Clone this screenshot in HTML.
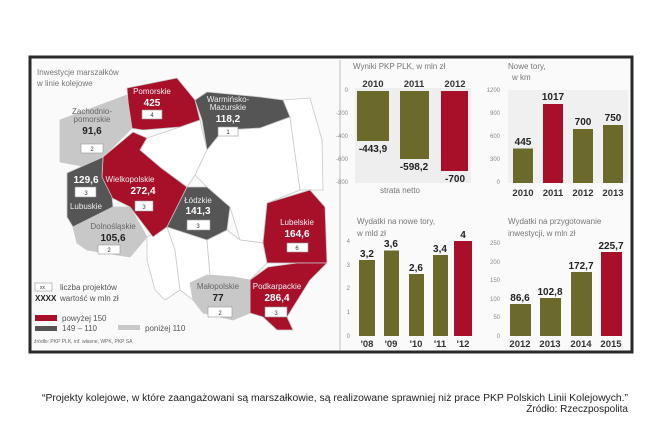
<!DOCTYPE html>
<html><head><meta charset="utf-8"><style>
html,body{margin:0;padding:0;background:#fff;}
svg{display:block;}
text{font-family:"Liberation Sans Narrow","Liberation Sans",sans-serif;}
.t{font-size:8px;fill:#777;}
.ax{font-size:6px;fill:#888;}
.v{font-size:10px;font-weight:bold;fill:#222;}
.y{font-size:9.5px;font-weight:bold;fill:#333;}
.rl{font-size:8px;fill:#eee;}
.rv{font-size:10px;font-weight:bold;fill:#fff;}
.dv{font-size:10px;font-weight:bold;fill:#222;}
.dl{font-size:8px;fill:#666;}
.bx{fill:#fff;stroke:#999;stroke-width:.6;}
.bt{font-size:6px;fill:#333;}
.lg{font-size:8px;fill:#555;}
.cap{font-family:"Liberation Sans",sans-serif;font-size:10px;fill:#222;}
</style></head><body>
<svg width="669" height="447" viewBox="0 0 669 447" xmlns="http://www.w3.org/2000/svg">
<rect width="669" height="447" fill="#fff"/>
<rect x="30" y="57" width="602" height="295" fill="#fafafa" stroke="#2a2a2a" stroke-width="3"/>
<line x1="340" y1="60" x2="340" y2="350" stroke="#ddd" stroke-width="2"/>
<g stroke="#c8c8c8" stroke-width="0.8" stroke-linejoin="round">
<polygon points="140,150 147,138 180,127 200,120 207,150 195,175 187,187 160,167" fill="#fff"/>
<polygon points="207,150 223,130 260,128 290,117 300,190 267,203 263,243 240,240 230,207 207,187 195,175" fill="#fff"/>
<polygon points="283,100 310,98 322,140 323,190 310,190 300,190 290,117" fill="#fff"/>
<polygon points="147,237 167,227 175,250 180,290 165,300 155,290 147,260" fill="#fff"/>
<polygon points="167,227 207,240 210,275 193,300 180,290 175,250" fill="#fff"/>
<polygon points="207,240 227,230 240,240 263,243 267,263 250,280 233,277 210,275" fill="#fff"/>
<polygon points="127,88 177,78 195,100 200,120 180,127 143,130 130,128" fill="#a8102a"/>
<polygon points="195,100 207,92 260,97 283,100 290,117 260,128 223,130 207,150 202,120" fill="#555"/>
<polygon points="60,120 127,95 132,128 103,157 87,167 60,162" fill="#c8c8c8"/>
<polygon points="103,157 133,132 147,138 140,150 160,167 187,187 167,227 153,237 130,207 110,197 102,177" fill="#a8102a"/>
<polygon points="67,173 103,157 102,177 112,197 113,207 73,227 67,217" fill="#555"/>
<polygon points="73,227 113,207 130,207 147,237 130,257 87,250 77,243" fill="#c8c8c8"/>
<polygon points="187,187 207,187 230,207 227,230 207,240 167,227" fill="#555"/>
<polygon points="267,203 310,190 325,207 327,263 297,263 267,263 263,243" fill="#a8102a"/>
<polygon points="250,280 268,267 297,263 327,263 310,280 287,317 293,330 277,330 263,317 250,313" fill="#a8102a"/>
<polygon points="190,283 207,275 233,277 250,280 250,313 233,320 203,313 193,300" fill="#c8c8c8"/>
</g>
<text x="37" y="75" class="t">Inwestycje marszałków</text>
<text x="37" y="86" class="t">w linie kolejowe</text>
<g text-anchor="middle">
<text x="152" y="94" class="rl">Pomorskie</text><text x="152" y="106" class="rv">425</text>
<rect x="142" y="110" width="20" height="9" class="bx"/><text x="152" y="117" class="bt">4</text>
<text x="228" y="102" class="rl">Warmińsko-</text><text x="228" y="110" class="rl">Mazurskie</text><text x="228" y="122" class="rv">118,2</text>
<rect x="218" y="127" width="20" height="9" class="bx"/><text x="228" y="134" class="bt">1</text>
<text x="92" y="114" class="dl">Zachodnio-</text><text x="92" y="122" class="dl">pomorskie</text><text x="92" y="134" class="dv">91,6</text>
<rect x="81" y="144" width="22" height="9" class="bx"/><text x="92" y="151" class="bt">2</text>
<text x="86" y="183" class="rv">129,6</text>
<rect x="75" y="187" width="21" height="10" class="bx"/><text x="86" y="195" class="bt">3</text>
<text x="86" y="209" class="rl">Lubuskie</text>
<text x="130" y="182" class="rl">Wielkopolskie</text><text x="143" y="194" class="rv">272,4</text>
<rect x="135" y="201" width="18" height="10" class="bx"/><text x="144" y="209" class="bt">3</text>
<text x="198" y="203" class="rl">Łódzkie</text><text x="198" y="214" class="rv">141,3</text>
<rect x="187" y="220" width="23" height="10" class="bx"/><text x="198" y="228" class="bt">3</text>
<text x="113" y="229" class="dl">Dolnośląskie</text><text x="113" y="241" class="dv">105,6</text>
<rect x="98" y="245" width="22" height="9" class="bx"/><text x="109" y="252" class="bt">2</text>
<text x="297" y="225" class="rl">Lubelskie</text><text x="297" y="237" class="rv">164,6</text>
<rect x="287" y="243" width="21" height="9" class="bx"/><text x="297" y="250" class="bt">6</text>
<text x="218" y="289" class="dl">Małopolskie</text><text x="218" y="301" class="dv">77</text>
<rect x="208" y="307" width="24" height="10" class="bx"/><text x="220" y="315" class="bt">2</text>
<text x="277" y="289" class="rl">Podkarpackie</text><text x="277" y="301" class="rv">286,4</text>
<rect x="265" y="307" width="22" height="10" class="bx"/><text x="276" y="315" class="bt">3</text>
</g>
<rect x="35" y="283" width="17" height="8" class="bx"/><text x="40" y="289" style="font-size:5px;fill:#333">xx</text>
<text x="60" y="290" class="lg">liczba projektów</text>
<text x="35" y="301" style="font-size:8px;font-weight:bold;fill:#222">XXXX</text><text x="60" y="301" class="lg">wartość w mln zł</text>
<rect x="35" y="315" width="22" height="6" fill="#a8102a"/><text x="62" y="321" class="lg">powyżej 150</text>
<rect x="35" y="326" width="22" height="5" fill="#555"/><text x="62" y="331" class="lg">149 – 110</text>
<rect x="118" y="325" width="22" height="5" fill="#c8c8c8"/><text x="145" y="331" class="lg">poniżej 110</text>
<text x="34" y="343" style="font-size:5px;fill:#666">źródło: PKP PLK, inf. własne, WPK, PKP SA</text>

<text x="353" y="69" class="t">Wyniki PKP PLK, w mln zł</text>
<rect x="355" y="88" width="116" height="95" fill="#eee"/>
<g class="ax" text-anchor="end"><text x="348" y="92">0</text><text x="348" y="115">-200</text><text x="348" y="138">-400</text><text x="348" y="161">-600</text><text x="348" y="184">-800</text></g>
<rect x="357" y="91" width="32" height="50" fill="#6b6a2a"/>
<rect x="400" y="91" width="29" height="68" fill="#6b6a2a"/>
<rect x="441" y="91" width="27" height="80" fill="#a8102a"/>
<g text-anchor="middle"><text x="373" y="87" class="y">2010</text><text x="414" y="87" class="y">2011</text><text x="455" y="87" class="y">2012</text>
<text x="373" y="152" class="v">-443,9</text><text x="414" y="170" class="v">-598,2</text><text x="455" y="182" class="v">-700</text>
<text x="400" y="193" class="t">strata netto</text></g>

<text x="508" y="69" class="t">Nowe tory,</text><text x="512" y="80" class="t">w km</text>
<rect x="508" y="90" width="120" height="93" fill="#f0f0f0"/>
<g class="ax" text-anchor="end"><text x="500" y="92">1200</text><text x="500" y="115">900</text><text x="500" y="138">600</text><text x="500" y="161">300</text><text x="500" y="184">0</text></g>
<rect x="513" y="148.5" width="20" height="34.5" fill="#6b6a2a"/>
<rect x="543" y="104" width="20" height="79" fill="#a8102a"/>
<rect x="573" y="129" width="20" height="54" fill="#6b6a2a"/>
<rect x="603" y="125" width="20" height="58" fill="#6b6a2a"/>
<g text-anchor="middle"><text x="523" y="145" class="v">445</text><text x="553" y="100" class="v">1017</text><text x="583" y="125" class="v">700</text><text x="613" y="121" class="v">750</text>
<text x="523" y="196" class="y">2010</text><text x="553" y="196" class="y">2011</text><text x="583" y="196" class="y">2012</text><text x="613" y="196" class="y">2013</text></g>

<text x="357" y="224" class="t">Wydatki na nowe tory,</text><text x="357" y="236" class="t">w mld zł</text>
<g class="ax" text-anchor="end"><text x="350" y="243">4</text><text x="350" y="267">3</text><text x="350" y="290">2</text><text x="350" y="314">1</text><text x="350" y="338">0</text></g>
<rect x="359" y="260" width="16" height="76" fill="#6b6a2a"/>
<rect x="384" y="250.5" width="15" height="85.5" fill="#6b6a2a"/>
<rect x="409" y="274" width="15" height="62" fill="#6b6a2a"/>
<rect x="433" y="255" width="15" height="81" fill="#6b6a2a"/>
<rect x="454" y="241" width="18" height="95" fill="#a8102a"/>
<g text-anchor="middle"><text x="367" y="257" class="v">3,2</text><text x="391" y="247" class="v">3,6</text><text x="416" y="271" class="v">2,6</text><text x="440" y="252" class="v">3,4</text><text x="463" y="238" class="v">4</text>
<text x="367" y="347" class="y">'08</text><text x="391" y="347" class="y">'09</text><text x="416" y="347" class="y">'10</text><text x="440" y="347" class="y">'11</text><text x="463" y="347" class="y">'12</text></g>

<text x="508" y="224" class="t">Wydatki na przygotowanie</text><text x="508" y="236" class="t">inwestycji, w mln zł</text>
<g class="ax" text-anchor="end"><text x="500" y="245">250</text><text x="500" y="264">200</text><text x="500" y="282">150</text><text x="500" y="301">100</text><text x="500" y="319">50</text><text x="500" y="338">0</text></g>
<rect x="510" y="304" width="21" height="32" fill="#6b6a2a"/>
<rect x="540" y="298" width="21" height="38" fill="#6b6a2a"/>
<rect x="571" y="272" width="21" height="64" fill="#6b6a2a"/>
<rect x="601" y="252" width="21" height="84" fill="#a8102a"/>
<g text-anchor="middle"><text x="520" y="301" class="v">86,6</text><text x="550" y="295" class="v">102,8</text><text x="581" y="269" class="v">172,7</text><text x="611" y="249" class="v">225,7</text>
<text x="520" y="347" class="y">2012</text><text x="550" y="347" class="y">2013</text><text x="581" y="347" class="y">2014</text><text x="611" y="347" class="y">2015</text></g>

<text x="628" y="401" text-anchor="end" class="cap" textLength="586" lengthAdjust="spacingAndGlyphs">“Projekty kolejowe, w które zaangażowani są marszałkowie, są realizowane sprawniej niż prace PKP Polskich Linii Kolejowych.”</text>
<text x="628" y="412" text-anchor="end" class="cap">Źródło: Rzeczpospolita</text>
</svg>
</body></html>
